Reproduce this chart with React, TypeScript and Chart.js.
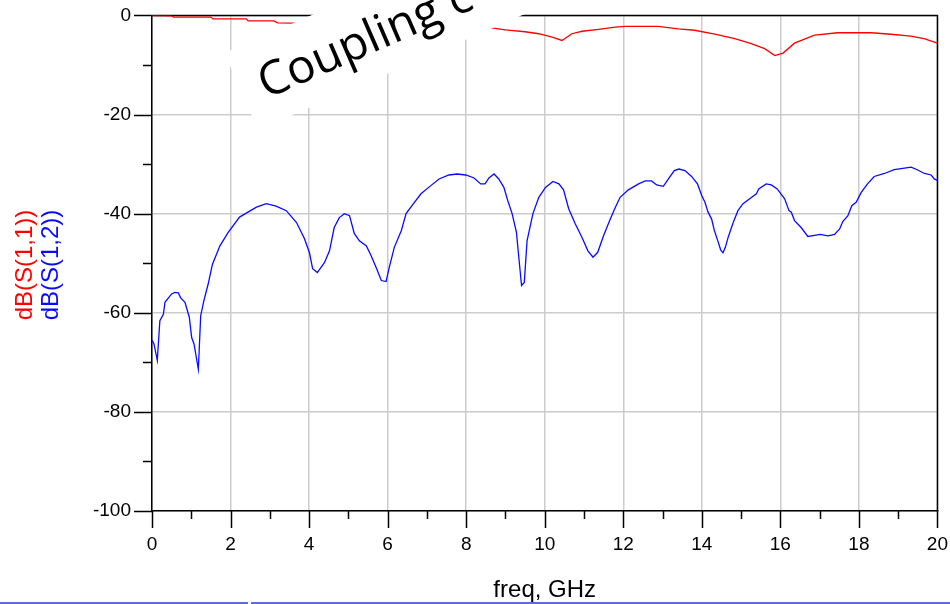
import React, { useEffect, useRef } from "react";
import { Chart, registerables } from "chart.js";

Chart.register(...registerables);

// S(1,2) transmission, frequency in GHz / magnitude in dB
const freqS12 = [
  0.0, 0.05, 0.135, 0.2, 0.29, 0.33, 0.5, 0.58, 0.67, 0.73, 0.84, 0.95, 1.01, 1.07, 1.18, 1.24, 1.32, 1.43, 1.54,
  1.73, 1.94, 2.23, 2.4, 2.66, 2.91, 3.16, 3.42, 3.68, 3.88, 4.01, 4.09, 4.21, 4.39, 4.52, 4.64, 4.77, 4.9, 5.03,
  5.15, 5.28, 5.46, 5.58, 5.71, 5.84, 5.96, 6.04, 6.17, 6.35, 6.47, 6.62, 6.85, 7.06, 7.31, 7.56, 7.77, 7.99, 8.2,
  8.37, 8.48, 8.58, 8.71, 8.83, 8.96, 9.06, 9.17, 9.28, 9.34, 9.41, 9.48, 9.55, 9.7, 9.85, 10.02, 10.21, 10.36,
  10.48, 10.61, 10.78, 10.95, 11.1, 11.23, 11.35, 11.5, 11.67, 11.8, 11.92, 12.13, 12.39, 12.56, 12.72, 12.85,
  13.02, 13.15, 13.3, 13.42, 13.57, 13.74, 13.89, 14.0, 14.08, 14.16, 14.25, 14.32, 14.42, 14.48, 14.54, 14.6,
  14.67, 14.8, 14.92, 15.05, 15.22, 15.39, 15.45, 15.64, 15.77, 15.92, 16.11, 16.22, 16.28, 16.36, 16.53, 16.7,
  16.87, 17.02, 17.21, 17.38, 17.51, 17.59, 17.72, 17.82, 17.93, 18.06, 18.22, 18.39, 18.65, 18.9, 19.16, 19.33,
  19.5, 19.67, 19.84, 19.92, 20.0,
];
const dbS12 = [
  -65.5, -66.3, -69.6, -61.6, -60.3, -57.9, -56.2, -55.9, -56.0, -57.0, -57.9, -60.9, -65.0, -66.3, -71.4, -60.6,
  -57.6, -54.2, -50.2, -46.5, -43.8, -40.7, -39.9, -38.7, -38.0, -38.5, -39.4, -41.8, -45.0, -47.9, -51.1, -51.9,
  -49.9, -47.5, -42.8, -40.8, -40.0, -40.4, -44.0, -45.5, -46.5, -48.5, -50.9, -53.5, -53.7, -50.9, -46.8, -43.4,
  -40.0, -38.4, -36.0, -34.6, -33.0, -32.2, -32.0, -32.2, -32.8, -34.0, -34.0, -32.8, -32.0, -33.0, -34.7, -37.4,
  -40.0, -43.8, -48.8, -54.5, -53.9, -45.5, -40.0, -36.7, -34.7, -33.5, -34.0, -35.2, -39.0, -42.1, -44.8, -47.5,
  -48.8, -47.8, -44.4, -41.1, -38.7, -36.7, -35.2, -34.0, -33.4, -33.4, -34.2, -34.5, -33.0, -31.3, -31.0, -31.3,
  -32.5, -34.0, -36.4, -37.7, -39.7, -41.1, -43.4, -45.8, -47.3, -47.9, -46.8, -44.8, -41.8, -39.4, -38.0, -37.0,
  -36.0, -35.0, -34.0, -34.2, -35.0, -37.0, -39.4, -39.7, -41.4, -42.8, -44.6, -44.4, -44.2, -44.5, -44.2, -43.1,
  -41.6, -40.4, -38.4, -37.7, -35.7, -34.0, -32.5, -31.9, -31.1, -30.8, -30.6, -31.2, -31.9, -32.2, -33.0, -33.3,
];

// S(1,1) reflection
const freqS11 = [
  0.0, 0.5, 0.55, 1.5, 1.55, 2.4, 2.45, 3.1, 3.2, 3.65, 4.5, 5.5, 6.5, 7.5, 8.2, 8.65, 9.0, 9.5, 9.85, 10.19,
  10.44, 10.69, 10.95, 11.37, 11.79, 12.05, 12.89, 13.4, 13.82, 14.33, 14.84, 15.26, 15.6, 15.86, 16.07, 16.36,
  16.87, 17.46, 18.31, 18.82, 19.32, 19.66, 20.0,
];
const dbS11 = [
  -0.05, -0.1, -0.35, -0.35, -0.7, -0.7, -1.1, -1.1, -1.5, -1.55, -1.7, -1.9, -2.0, -2.2, -2.3, -2.5, -2.9, -3.3,
  -3.7, -4.4, -5.05, -3.7, -3.2, -2.8, -2.35, -2.2, -2.2, -2.7, -3.0, -3.8, -4.7, -5.7, -6.7, -8.1, -7.6, -5.6,
  -4.0, -3.5, -3.5, -3.8, -4.2, -4.7, -5.6,
];

const xTitle = "freq, GHz";
const s11Title = "dB(S(1,1))";
const s12Title = "dB(S(1,2))";
const noteText = "Coupling c";

const xMin = 0, xMax = 20, xMajor = 2, xMinor = 1;
const yMin = -100, yMax = 0, yMajor = 20, yMinor = 10;

const S11_COLOR = "#ff0000";
const S12_COLOR = "#0a0aff";
const TICK_FONT = '"Liberation Sans", Arial, sans-serif';

// canvas is shifted up so the plot frame starts near the page top
const CANVAS_SHIFT = 17;

// closes the frame on top/right and draws major + minor tick marks outside the axes
const frameTicks = {
  id: "frameTicks",
  beforeDatasetsDraw(chart: any) {
    const { ctx, chartArea: a, scales } = chart;
    const x = scales.x, y = scales.y;
    ctx.save();
    ctx.strokeStyle = "#000";
    ctx.lineWidth = 1.5;
    ctx.beginPath();
    ctx.moveTo(a.left, a.top);
    ctx.lineTo(a.right, a.top);
    ctx.lineTo(a.right, a.bottom);
    ctx.stroke();
    ctx.beginPath();
    for (let v = xMin; v <= xMax; v += xMinor) {
      const px = Math.round(x.getPixelForValue(v)) + 0.5;
      const len = v % xMajor === 0 ? 17 : 8;
      ctx.moveTo(px, a.bottom);
      ctx.lineTo(px, a.bottom + len);
    }
    for (let v = yMin; v <= yMax; v += yMinor) {
      const py = Math.round(y.getPixelForValue(v)) + 0.5;
      const len = v % yMajor === 0 ? 18 : 9;
      ctx.moveTo(a.left - len, py);
      ctx.lineTo(a.left, py);
    }
    ctx.stroke();
    ctx.restore();
  },
};

// rotated white note box with its caption
const noteBox = {
  id: "noteBox",
  afterDatasetsDraw(chart: any) {
    const { ctx } = chart;
    ctx.save();
    ctx.translate(258, 130 + CANVAS_SHIFT);
    ctx.rotate((-23.5 * Math.PI) / 180);
    ctx.fillStyle = "#ffffff";
    ctx.fillRect(0, -84, 460, 84);
    ctx.fillStyle = "#000000";
    ctx.font = '47px "Comic Sans MS", "Open Sans", sans-serif';
    ctx.textAlign = "left";
    ctx.textBaseline = "alphabetic";
    ctx.fillText(noteText, 20, -25);
    ctx.restore();
  },
};

// axis titles
const axisTitles = {
  id: "axisTitles",
  afterDraw(chart: any) {
    const { ctx, chartArea: a } = chart;
    ctx.save();
    ctx.font = `24px ${TICK_FONT}`;
    ctx.textAlign = "center";
    ctx.textBaseline = "middle";
    ctx.fillStyle = "#000";
    ctx.fillText(xTitle, (a.left + a.right) / 2, 590 + CANVAS_SHIFT);
    const midY = 265 + CANVAS_SHIFT;
    ctx.save();
    ctx.translate(25, midY);
    ctx.rotate(-Math.PI / 2);
    ctx.fillStyle = S11_COLOR;
    ctx.fillText(s11Title, 0, 0);
    ctx.restore();
    ctx.save();
    ctx.translate(51, midY);
    ctx.rotate(-Math.PI / 2);
    ctx.fillStyle = S12_COLOR;
    ctx.fillText(s12Title, 0, 0);
    ctx.restore();
    ctx.restore();
  },
};

export default function App() {
  const canvasRef = useRef<HTMLCanvasElement | null>(null);

  useEffect(() => {
    const canvas = canvasRef.current;
    if (!canvas) return;
    const chart = new Chart(canvas, {
      type: "line",
      data: {
        datasets: [
          {
            label: s11Title,
            data: freqS11.map((f, i) => ({ x: f, y: dbS11[i] })),
            borderColor: S11_COLOR,
            borderWidth: 1.3,
            pointRadius: 0,
            tension: 0,
          },
          {
            label: s12Title,
            data: freqS12.map((f, i) => ({ x: f, y: dbS12[i] })),
            borderColor: S12_COLOR,
            borderWidth: 1.3,
            pointRadius: 0,
            tension: 0,
          },
        ],
      },
      options: {
        responsive: false,
        animation: false,
        events: [],
        layout: { padding: { left: 0, right: 30, top: 0, bottom: 0 } },
        plugins: {
          legend: { display: false },
          tooltip: { enabled: false },
          title: { display: false },
        },
        scales: {
          x: {
            type: "linear",
            min: xMin,
            max: xMax,
            afterFit: (s: any) => {
              s.height = 93;
            },
            ticks: {
              stepSize: xMajor,
              padding: 22,
              color: "#000",
              font: { family: TICK_FONT, size: 19 },
              maxRotation: 0,
              autoSkip: false,
            },
            grid: { color: "#cccccc", lineWidth: 1.5, drawTicks: false },
            border: { display: true, color: "#000", width: 1.5 },
          },
          y: {
            type: "linear",
            min: yMin,
            max: yMax,
            afterFit: (s: any) => {
              s.width = 152;
            },
            ticks: {
              stepSize: yMajor,
              padding: 21,
              color: "#000",
              font: { family: TICK_FONT, size: 19 },
            },
            grid: { color: "#cccccc", lineWidth: 1.5, drawTicks: false },
            border: { display: true, color: "#000", width: 1.5 },
          },
        },
      },
      plugins: [frameTicks, noteBox, axisTitles],
    });
    return () => chart.destroy();
  }, []);

  return (
    <div
      style={{
        position: "fixed",
        left: 0,
        top: 0,
        width: 950,
        height: 604,
        overflow: "hidden",
        background: "#ffffff",
      }}
    >
      <canvas
        ref={canvasRef}
        width={970}
        height={604 + CANVAS_SHIFT}
        style={{ display: "block", marginTop: -CANVAS_SHIFT }}
      />
      <div style={{ position: "absolute", left: 0, top: 602, width: 248, height: 2, background: "#5b6ed4" }} />
      <div style={{ position: "absolute", left: 251, top: 602, width: 699, height: 2, background: "#5b6ed4" }} />
    </div>
  );
}
